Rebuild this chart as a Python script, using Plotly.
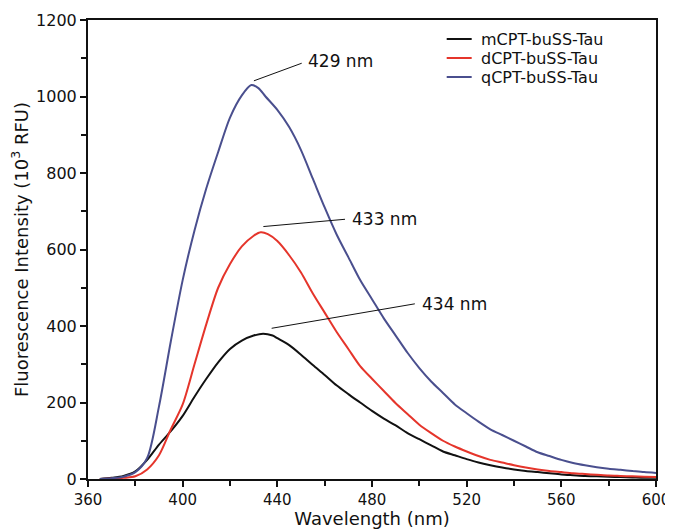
import plotly.graph_objects as go

wavelength = [365, 370, 375, 380, 385, 390, 395, 400, 405, 410, 415, 420, 425, 429, 432, 435,
              440, 445, 450, 455, 460, 465, 470, 475, 480, 485, 490, 495, 500, 505, 510, 515,
              520, 525, 530, 535, 540, 545, 550, 555, 560, 565, 570, 575, 580, 585, 590, 595, 600]

q_cpt = [0, 2, 6, 18, 55, 190, 360, 520, 650, 760, 855, 945, 1003, 1030, 1022, 1000,
         965, 920, 860, 785, 710, 640, 580, 520, 470, 420, 375, 330, 290, 255, 225, 195,
         172, 150, 130, 115, 100, 85, 70, 60, 50, 42, 36, 31, 27, 24, 21, 18, 16]

d_wl = [365, 370, 375, 380, 385, 390, 395, 400, 405, 410, 415, 420, 425, 430, 433, 436,
        440, 445, 450, 455, 460, 465, 470, 475, 480, 485, 490, 495, 500, 505, 510, 515,
        520, 525, 530, 535, 540, 545, 550, 555, 560, 565, 570, 575, 580, 585, 590, 595, 600]
d_cpt = [0, 1, 3, 7, 25, 62, 130, 195, 300, 405, 500, 562, 608, 636, 645, 640,
         622, 585, 540, 485, 435, 385, 340, 295, 262, 230, 198, 170, 142, 120, 100, 85,
         72, 60, 50, 43, 36, 30, 25, 21, 18, 15, 13, 11, 9, 8, 7, 6, 5]

m_wl = [365, 370, 375, 380, 385, 390, 395, 400, 405, 410, 415, 420, 425, 430, 434, 438,
        440, 445, 450, 455, 460, 465, 470, 475, 480, 485, 490, 495, 500, 505, 510, 515,
        520, 525, 530, 535, 540, 545, 550, 555, 560, 565, 570, 575, 580, 585, 590, 595, 600]
m_cpt = [0, 3, 8, 20, 50, 90, 125, 165, 215, 262, 305, 340, 362, 375, 380, 375,
         368, 350, 325, 298, 272, 245, 222, 200, 178, 158, 140, 120, 104, 88, 72, 62,
         52, 43, 36, 30, 25, 21, 18, 15, 12, 10, 8, 7, 6, 5, 4, 3, 3]

names = ["mCPT-buSS-Tau", "dCPT-buSS-Tau", "qCPT-buSS-Tau"]
colors = ["#111111", "#e5352b", "#4a4f8e"]

peak_labels = ["429 nm", "433 nm", "434 nm"]
# label leader lines: (x0, y0, x1, y1) and label anchor (x, y)
leader = [(430.1, 1041, 450.3, 1087), (434.1, 660, 468.6, 679), (437.6, 394, 498.1, 458)]
label_pos = [(452.0, 1094), (470.6, 679), (500.1, 458)]

FONT = "DejaVu Sans, sans-serif"

fig = go.Figure()
for wl, vals, name, col in [(m_wl, m_cpt, names[0], colors[0]),
                            (d_wl, d_cpt, names[1], colors[1]),
                            (wavelength, q_cpt, names[2], colors[2])]:
    fig.add_trace(go.Scatter(x=wl, y=vals, mode="lines", name=name, showlegend=False,
                             line=dict(color=col, width=2, shape="spline", smoothing=0.8)))

for (x0, y0, x1, y1), (lx, ly), txt in zip(leader, label_pos, peak_labels):
    fig.add_shape(type="line", x0=x0, y0=y0, x1=x1, y1=y1, xref="x", yref="y",
                  line=dict(color="#111111", width=1))
    fig.add_annotation(x=lx, y=ly, text=txt, showarrow=False, xanchor="left",
                       yanchor="middle", font=dict(size=17, color="#111111", family=FONT))

# legend drawn inside the plot, top right
leg_rows = [0.9586, 0.9172, 0.8758]
for name, col, ry in zip(names, colors, leg_rows):
    fig.add_shape(type="line", xref="paper", yref="paper", x0=0.6315, x1=0.6755, y0=ry, y1=ry,
                  line=dict(color=col, width=2))
    fig.add_annotation(xref="paper", yref="paper", x=0.6905, y=ry, text=name, showarrow=False,
                       xanchor="left", yanchor="middle", borderpad=0,
                       font=dict(size=16, color="#111111", family=FONT))

# page has an 8px body margin, so the figure is drawn 8px smaller and offset
fig.update_layout(
    width=665, height=521,
    margin=dict(l=80, r=17, t=12, b=50, autoexpand=False),
    paper_bgcolor="white", plot_bgcolor="white",
    font=dict(family=FONT, color="#111111"),
    showlegend=False,
)
fig.update_xaxes(range=[360, 600], tickvals=[360, 400, 440, 480, 520, 560, 600],
                 ticks="outside", ticklen=6, tickwidth=2, tickcolor="#111111",
                 minor=dict(dtick=20, tick0=360, ticks="outside", ticklen=5, tickwidth=2, tickcolor="#111111"),
                 showline=True, linecolor="#111111", linewidth=2, mirror=True,
                 showgrid=False, zeroline=False, automargin=False,
                 tickfont=dict(size=15),
                 title=dict(text="Wavelength (nm)", font=dict(size=18), standoff=3))
fig.update_yaxes(range=[0, 1200], tickvals=[0, 200, 400, 600, 800, 1000, 1200],
                 ticks="outside", ticklen=6, tickwidth=2, tickcolor="#111111",
                 minor=dict(dtick=100, tick0=0, ticks="outside", ticklen=5, tickwidth=2, tickcolor="#111111"),
                 showline=True, linecolor="#111111", linewidth=2, mirror=True,
                 showgrid=False, zeroline=False, automargin=False,
                 tickfont=dict(size=16),
                 title=dict(text="Fluorescence Intensity (10<sup>3</sup> RFU)", font=dict(size=18), standoff=4))

fig.write_html("out.html")
